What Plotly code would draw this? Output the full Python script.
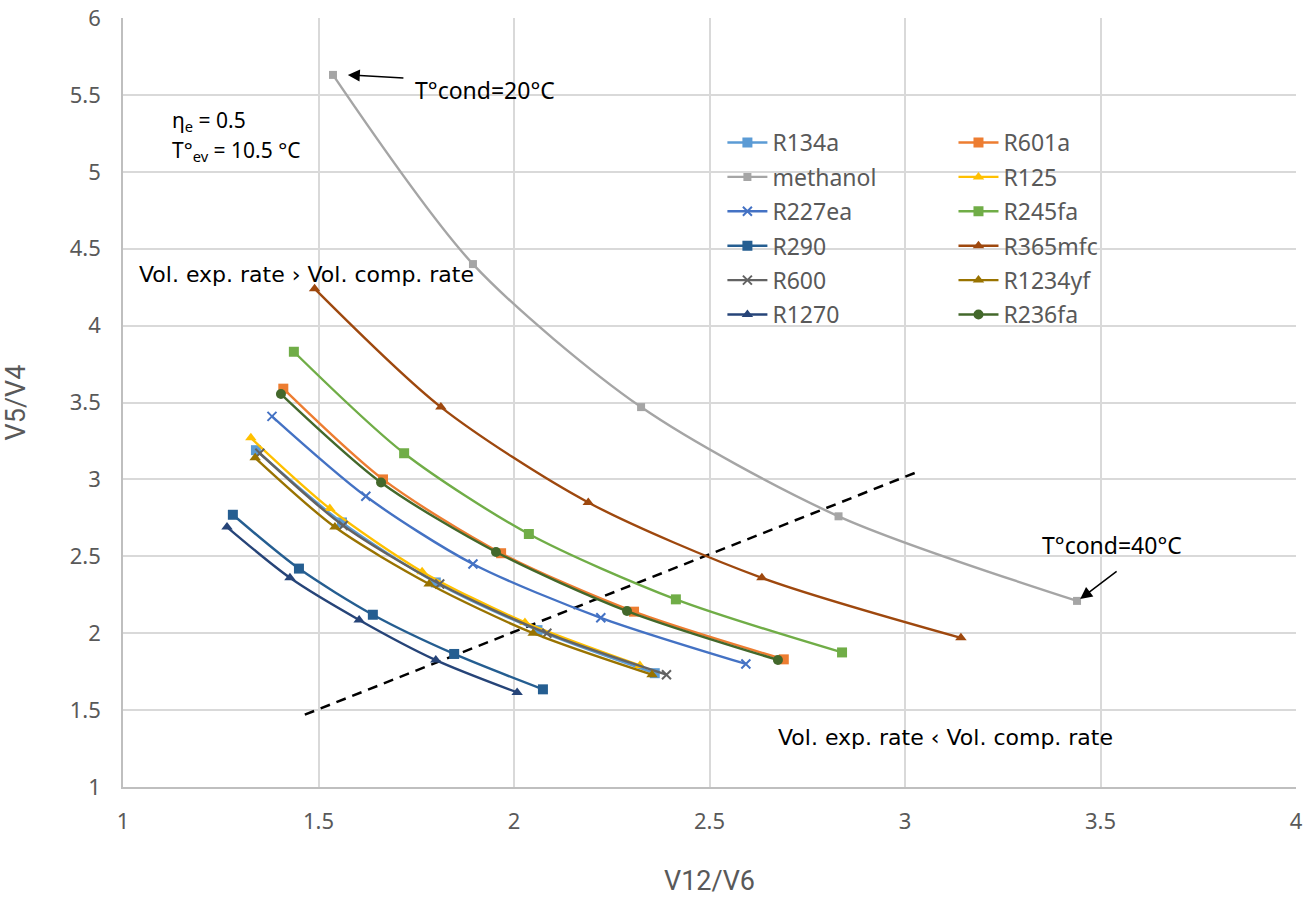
import plotly.graph_objects as go

# ---- data ----
names = ["R134a", "R601a", "methanol", "R125", "R227ea", "R245fa",
         "R290", "R365mfc", "R600", "R1234yf", "R1270", "R236fa"]

x_R134a = [1.34, 1.56, 1.80, 2.06, 2.36]
y_R134a = [3.19, 2.72, 2.33, 2.02, 1.74]
x_R601a = [1.41, 1.665, 1.967, 2.307, 2.69]
y_R601a = [3.59, 3.00, 2.52, 2.14, 1.83]
x_methanol = [1.537, 1.895, 2.325, 2.83, 3.44]
y_methanol = [5.63, 4.40, 3.47, 2.76, 2.21]
x_R125 = [1.327, 1.529, 1.765, 2.028, 2.322]
y_R125 = [3.27, 2.81, 2.40, 2.07, 1.79]
x_R227ea = [1.381, 1.621, 1.895, 2.222, 2.593]
y_R227ea = [3.41, 2.89, 2.45, 2.10, 1.80]
x_R245fa = [1.437, 1.719, 2.038, 2.414, 2.839]
y_R245fa = [3.83, 3.17, 2.645, 2.22, 1.875]
x_R290 = [1.281, 1.45, 1.639, 1.847, 2.074]
y_R290 = [2.77, 2.42, 2.12, 1.865, 1.635]
x_R365mfc = [1.49, 1.813, 2.19, 2.634, 3.143]
y_R365mfc = [4.24, 3.47, 2.85, 2.36, 1.97]
x_R600 = [1.35, 1.563, 1.81, 2.084, 2.39]
y_R600 = [3.17, 2.70, 2.32, 2.00, 1.73]
x_R1234yf = [1.338, 1.542, 1.783, 2.049, 2.353]
y_R1234yf = [3.14, 2.69, 2.32, 2.00, 1.73]
x_R1270 = [1.266, 1.427, 1.604, 1.80, 2.008]
y_R1270 = [2.69, 2.36, 2.086, 1.825, 1.615]
x_R236fa = [1.404, 1.66, 1.954, 2.289, 2.675]
y_R236fa = [3.555, 2.98, 2.528, 2.144, 1.826]

xs = [x_R134a, x_R601a, x_methanol, x_R125, x_R227ea, x_R245fa,
      x_R290, x_R365mfc, x_R600, x_R1234yf, x_R1270, x_R236fa]
ys = [y_R134a, y_R601a, y_methanol, y_R125, y_R227ea, y_R245fa,
      y_R290, y_R365mfc, y_R600, y_R1234yf, y_R1270, y_R236fa]

colors = ["#5B9BD5", "#ED7D31", "#A5A5A5", "#FFC000", "#4472C4", "#70AD47",
          "#255E91", "#9E480E", "#636363", "#997300", "#264478", "#43682B"]
symbols = ["square", "square", "square", "triangle-up", "x-thin", "square",
           "square", "triangle-up", "x-thin", "triangle-up", "triangle-up", "circle"]

# dashed divider line
x_div = [1.465, 3.033]
y_div = [1.47, 3.05]

x_ticks = [1, 1.5, 2, 2.5, 3, 3.5, 4]
y_ticks = [1, 1.5, 2, 2.5, 3, 3.5, 4, 4.5, 5, 5.5, 6]

fig = go.Figure()

fig.add_trace(go.Scatter(x=x_div, y=y_div, mode="lines", showlegend=False,
                         line=dict(color="black", width=2.5, dash="10px,7px"),
                         hoverinfo="skip"))

for i, n in enumerate(names):
    sym = symbols[i]
    size = 10 if sym != "x-thin" else 9
    if n == "methanol":
        size = 8
    marker = dict(symbol=sym, size=size, color=colors[i])
    if sym == "x-thin":
        marker["line"] = dict(color=colors[i], width=2)
    fig.add_trace(go.Scatter(
        x=xs[i], y=ys[i], name=n, mode="lines+markers", legendgroup=n,
        line=dict(color=colors[i], width=2.4, shape="spline", smoothing=0.8),
        marker=marker,
        legend="legend" if i % 2 == 0 else "legend2",
    ))

font_main = "Noto Sans, Liberation Sans, sans-serif"
font_comic = "DejaVu Sans, sans-serif"
font_title = "Liberation Sans Narrow, Roboto, sans-serif"

annotations = [
    dict(x=1.575, y=5.63, ax=1.721, ay=5.61, xref="x", yref="y", axref="x", ayref="y",
         text="", showarrow=True, arrowhead=2, arrowsize=1.6, arrowwidth=1.5, arrowcolor="black"),
    dict(x=3.448, y=2.222, ax=3.545, ay=2.41, xref="x", yref="y", axref="x", ayref="y",
         text="", showarrow=True, arrowhead=2, arrowsize=1.6, arrowwidth=1.5, arrowcolor="black"),
    dict(x=1.742, y=5.53, xref="x", yref="y", text="T°cond=20°C", showarrow=False,
         xanchor="left", yanchor="middle", font=dict(family=font_main, size=23, color="black")),
    dict(x=3.345, y=2.573, xref="x", yref="y", text="T°cond=40°C", showarrow=False,
         xanchor="left", yanchor="middle", font=dict(family=font_main, size=23, color="black")),
    dict(x=1.12, y=5.33, xref="x", yref="y",
         text="η<sub>e</sub> = 0.5", showarrow=False,
         xanchor="left", yanchor="middle", align="left",
         font=dict(family=font_main, size=21, color="black")),
    dict(x=1.12, y=5.135, xref="x", yref="y",
         text="T°<sub>ev</sub> = 10.5 °C", showarrow=False,
         xanchor="left", yanchor="middle", align="left",
         font=dict(family=font_main, size=21, color="black")),
    dict(x=1.036, y=4.33, xref="x", yref="y", text="Vol. exp. rate › Vol. comp. rate",
         showarrow=False, xanchor="left", yanchor="middle",
         font=dict(family=font_comic, size=22, color="black")),
    dict(x=2.67, y=1.325, xref="x", yref="y", text="Vol. exp. rate ‹ Vol. comp. rate",
         showarrow=False, xanchor="left", yanchor="middle",
         font=dict(family=font_comic, size=22, color="black")),
]

axis_common = dict(showgrid=True, gridcolor="#D9D9D9", gridwidth=1.5,
                   showline=True, linecolor="#BFBFBF", linewidth=1.5,
                   zeroline=False, ticks="", automargin=False,
                   ticklabeloverflow="allow",
                   tickfont=dict(family=font_main, size=22, color="#595959"))

fig.update_layout(
    width=1310, height=897,
    margin=dict(l=123, r=14, t=18, b=110),
    paper_bgcolor="white", plot_bgcolor="white",
    xaxis=dict(range=[1, 4], tickvals=x_ticks, ticklabelstandoff=14,
               title=dict(text="V12/V6", font=dict(family=font_title, size=27, color="#595959"),
                          standoff=38),
               **axis_common),
    yaxis=dict(range=[1, 6], tickvals=y_ticks, ticklabelstandoff=16,
               title=dict(text="V5/V4", font=dict(family=font_title, size=27, color="#595959"),
                          standoff=40),
               **axis_common),
    legend=dict(x=0.511, y=0.866, xanchor="left", yanchor="top",
                bgcolor="rgba(0,0,0,0)", font=dict(family=font_main, size=23, color="#595959"),
                itemwidth=40, tracegroupgap=1.5),
    legend2=dict(x=0.708, y=0.866, xanchor="left", yanchor="top",
                 bgcolor="rgba(0,0,0,0)", font=dict(family=font_main, size=23, color="#595959"),
                 itemwidth=40, tracegroupgap=1.5),
    annotations=annotations,
    showlegend=True,
)

# remove the default page margin so the figure fills the window exactly
fig.write_html("out.html", config={"displayModeBar": False},
               post_script="document.body.style.margin='0';")
